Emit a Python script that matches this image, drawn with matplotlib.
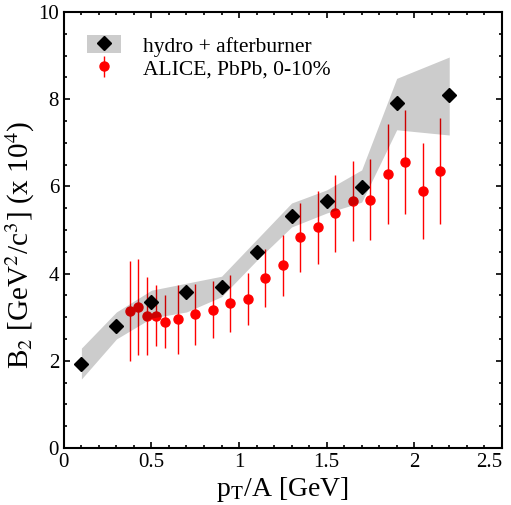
import matplotlib
matplotlib.use("Agg")
import matplotlib.pyplot as plt
from matplotlib.patches import Patch
from matplotlib.lines import Line2D
from matplotlib.ticker import MultipleLocator

plt.rcParams['font.family'] = ['Liberation Serif', 'DejaVu Serif']
plt.rcParams['mathtext.fontset'] = 'stix'

# hydro + afterburner
hydro_pt = [0.1, 0.3, 0.5, 0.7, 0.9, 1.1, 1.3, 1.5, 1.7, 1.9, 2.2]
hydro_b2 = [1.93, 2.80, 3.35, 3.58, 3.69, 4.50, 5.32, 5.67, 5.99, 7.91, 8.10]
band_lo = [1.58, 2.50, 2.98, 3.12, 3.47, 4.30, 5.07, 5.39, 5.64, 7.30, 7.18]
band_hi = [2.29, 3.12, 3.62, 3.78, 3.94, 4.78, 5.62, 5.92, 6.38, 8.48, 8.97]

# ALICE PbPb 0-10%
alice_pt = [0.375, 0.425, 0.475, 0.525, 0.575, 0.65, 0.75, 0.85, 0.95, 1.05, 1.15,
            1.25, 1.35, 1.45, 1.55, 1.65, 1.75, 1.85, 1.95, 2.05, 2.15]
alice_b2 = [3.14, 3.23, 3.03, 3.03, 2.90, 2.95, 3.07, 3.17, 3.32, 3.42, 3.90,
            4.19, 4.83, 5.06, 5.38, 5.66, 5.70, 6.28, 6.56, 5.90, 6.36]
alice_err = [1.15, 1.10, 0.90, 0.70, 0.60, 0.80, 0.70, 0.65, 0.65, 0.60, 0.67,
             0.70, 0.80, 0.83, 0.88, 0.92, 0.92, 1.15, 1.20, 1.10, 1.22]

xtick_vals = [0, 0.5, 1, 1.5, 2, 2.5]
xtick_labels = ['0', '0.5', '1', '1.5', '2', '2.5']

fig = plt.figure(figsize=(5.11, 5.05), dpi=100)
ax = fig.add_axes([0.125, 0.113, 0.857, 0.863])

ax.errorbar(alice_pt, alice_b2, yerr=alice_err, fmt='o', color='red', ms=6.5,
            elinewidth=1.0, capsize=0, zorder=2)
ax.fill_between(hydro_pt, band_lo, band_hi, color='black', alpha=0.2, lw=0, zorder=3)
ax.plot(hydro_pt, hydro_b2, 'D', color='black', ms=7.5, ls='none', zorder=4)

ax.set_xlim(0, 2.5)
ax.set_ylim(0, 10)
ax.set_xticks(xtick_vals)
ax.set_xticklabels(xtick_labels)
ax.get_xticklabels()[-1].set_ha('right')
ax.xaxis.set_minor_locator(MultipleLocator(0.1))
ax.yaxis.set_major_locator(MultipleLocator(2))
ax.yaxis.set_minor_locator(MultipleLocator(0.5))
ax.tick_params(which='both', direction='in', top=True, right=True, labelsize=15, width=1.2)
ax.tick_params(which='major', length=4.5)
ax.tick_params(which='minor', length=2.5)
for s in ax.spines.values():
    s.set_linewidth(1.5)

ax.set_xlabel(r'p$_{\mathrm{T}}$/A [GeV]', fontsize=20, labelpad=2)
ax.set_ylabel(r'B$_2$ [GeV$^2$/c$^3$] (x 10$^4$)', fontsize=21)
ax.yaxis.set_label_coords(-0.062, 0.465)

h1 = (Patch(facecolor='black', alpha=0.2, lw=0),
      Line2D([], [], marker='D', color='black', ms=7.5, ls='none'))
eb = ax.errorbar([], [], yerr=[], fmt='o', color='red', ms=6.5, elinewidth=1.0)
ax.legend([h1, eb], ['hydro + afterburner', 'ALICE, PbPb, 0-10%'],
          loc='upper left', bbox_to_anchor=(0.0525, 0.947), frameon=False,
          borderpad=0, borderaxespad=0,
          fontsize=15.5, handlelength=1.6, handleheight=0.9, labelspacing=0.08,
          handletextpad=1.0)

fig.savefig('out.png', dpi=100)
